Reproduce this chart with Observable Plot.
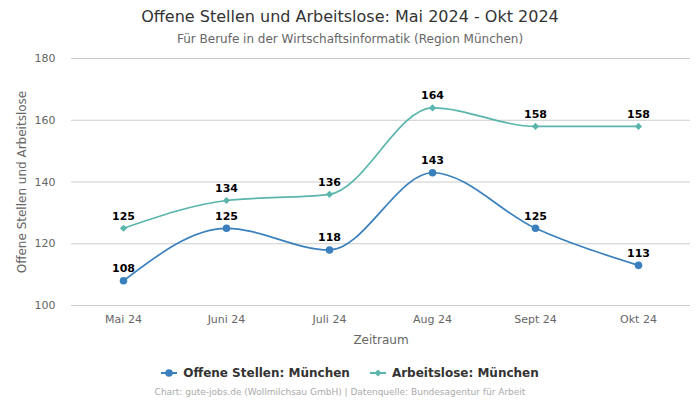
<!DOCTYPE html>
<html>
<head>
<meta charset="utf-8">
<script src="https://cdn.jsdelivr.net/npm/d3@7"></script>
<script src="https://cdn.jsdelivr.net/npm/@observablehq/plot@0.6"></script>
<style>
  body { margin: 0; width: 700px; height: 400px; background: #fff; font-family: "DejaVu Sans", sans-serif; overflow: hidden; }
  #title { position: absolute; top: 7px; width: 700px; text-align: center; font-size: 16px; color: #333; }
  #subtitle { position: absolute; top: 32px; width: 700px; text-align: center; font-size: 12px; color: #666; }
  #chart { position: absolute; top: 48px; left: 0; }
  #legend { position: absolute; top: 366px; width: 700px; display: flex; justify-content: center; gap: 20px; font-size: 12px; font-weight: bold; color: #333; }
  #legend span.item { display: flex; align-items: center; gap: 6px; }
  #caption { position: absolute; top: 387px; left: -10px; width: 700px; text-align: center; font-size: 9px; color: #aaa; }
</style>
</head>
<body>
<div id="title">Offene Stellen und Arbeitslose: Mai 2024 - Okt 2024</div>
<div id="subtitle">Für Berufe in der Wirtschaftsinformatik (Region München)</div>
<div id="chart"></div>
<div id="legend"></div>
<div id="caption">Chart: gute-jobs.de (Wollmilchsau GmbH) | Datenquelle: Bundesagentur für Arbeit</div>
<script>
const months = ["Mai 24", "Juni 24", "Juli 24", "Aug 24", "Sept 24", "Okt 24"];
const offeneStellen = [108, 125, 118, 143, 125, 113];
const arbeitslose = [125, 134, 136, 164, 158, 158];
const seriesNames = ["Offene Stellen: München", "Arbeitslose: München"];
const seriesColors = ["#3a80bd", "#5ab5ac"];
const yTicks = [100, 120, 140, 160, 180];
const yLabel = "Offene Stellen und Arbeitslose";
const xLabel = "Zeitraum";

const rowsA = months.map((m, i) => ({month: m, value: offeneStellen[i], series: seriesNames[0]}));
const rowsB = months.map((m, i) => ({month: m, value: arbeitslose[i], series: seriesNames[1]}));

const chart = Plot.plot({
  width: 700,
  height: 304,
  marginLeft: 71,
  marginRight: 10,
  marginTop: 10,
  marginBottom: 47,
  style: {fontFamily: "DejaVu Sans, sans-serif", fontSize: "11px", color: "#666", background: "#fff"},
  x: {type: "point", domain: months, padding: 0.5, label: null},
  y: {domain: [100, 180], label: null},
  marks: [
    Plot.gridY(yTicks, {stroke: "#cccccc", strokeOpacity: 1}),
    Plot.axisY(yTicks, {tickSize: 0, tickPadding: 16, fill: "#666", fontSize: 11, label: null}),
    Plot.axisX({tickSize: 0, tickPadding: 10, fill: "#666", fontSize: 11, label: null}),
    Plot.text([yLabel], {frameAnchor: "left", rotate: -90, dx: -49, textAnchor: "middle", lineAnchor: "middle", fontSize: 12, fill: "#666"}),
    Plot.text([xLabel], {frameAnchor: "bottom", dy: 35, textAnchor: "middle", lineAnchor: "middle", fontSize: 12, fill: "#666"}),
    Plot.line(rowsB, {x: "month", y: "value", stroke: seriesColors[1], strokeWidth: 1.7, curve: "monotone-x"}),
    Plot.line(rowsA, {x: "month", y: "value", stroke: seriesColors[0], strokeWidth: 1.7, curve: "monotone-x"}),
    Plot.dot(rowsB, {x: "month", y: "value", fill: seriesColors[1], symbol: "diamond2", r: 3.2}),
    Plot.dot(rowsA, {x: "month", y: "value", fill: seriesColors[0], r: 3.8}),
    Plot.text(rowsB, {x: "month", y: "value", text: d => String(d.value), dy: -12, fill: "#000", fontWeight: "bold", fontSize: 11}),
    Plot.text(rowsA, {x: "month", y: "value", text: d => String(d.value), dy: -12, fill: "#000", fontWeight: "bold", fontSize: 11})
  ]
});
document.getElementById("chart").appendChild(chart);

const legend = document.getElementById("legend");
seriesNames.forEach((name, i) => {
  const item = document.createElement("span");
  item.className = "item";
  const marker = i === 0
    ? `<svg width="16" height="10"><line x1="0" y1="5" x2="16" y2="5" stroke="${seriesColors[i]}" stroke-width="2"/><circle cx="8" cy="5" r="3.8" fill="${seriesColors[i]}"/></svg>`
    : `<svg width="16" height="10"><line x1="0" y1="5" x2="16" y2="5" stroke="${seriesColors[i]}" stroke-width="2"/><path d="M8,1.5L11.5,5L8,8.5L4.5,5Z" fill="${seriesColors[i]}"/></svg>`;
  item.innerHTML = marker + `<span>${name}</span>`;
  legend.appendChild(item);
});
</script>
</body>
</html>
